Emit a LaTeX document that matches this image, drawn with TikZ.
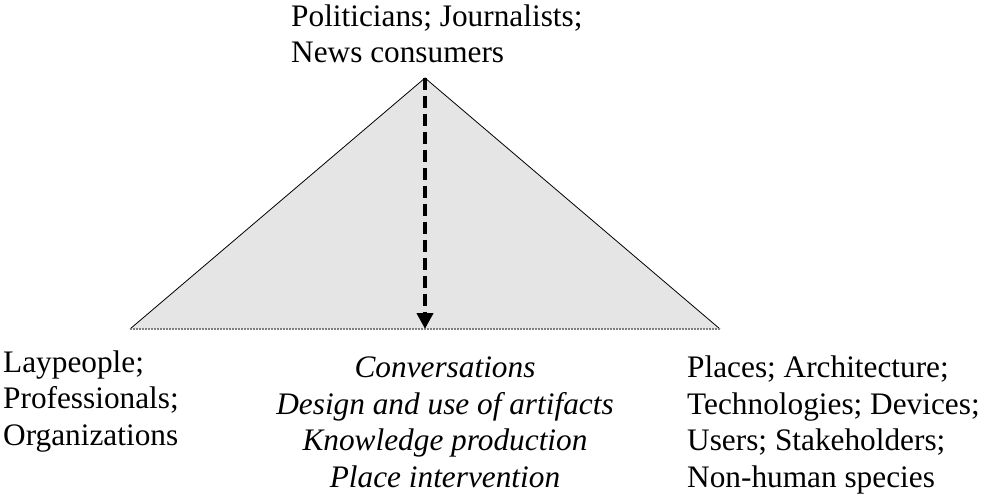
\documentclass[tikz,border=0pt]{standalone}
\usepackage{fontspec}
\setmainfont{Liberation Serif}
\usetikzlibrary{arrows.meta}
\begin{document}
\begin{tikzpicture}[x=1pt,y=-1pt,
  label text/.style={inner sep=0pt, font=\fontsize{31.3}{36.4}\selectfont},
  side/.style={draw=black, line width=0.8pt},
  baseline rule/.style={draw=gray, line width=1.3pt, dash pattern=on 2pt off 1pt},
  flow arrow/.style={draw=black, line width=4pt, dash pattern=on 12pt off 6pt,
    -{Triangle[width=16pt,length=16pt]}}]
  \useasboundingbox (0,0) rectangle (983,495);
  % corners of the triangle and the foot of the arrow
  \coordinate (apex) at (425,78);
  \coordinate (lft) at (130,329);
  \coordinate (rgt) at (720,329);
  \coordinate (foot) at (425,329);
  % shaded triangle
  \fill[black!10] (apex) -- (lft) -- (rgt) -- cycle;
  \draw[side] (lft) -- (apex) -- (rgt);
  \draw[baseline rule] (lft) -- (rgt);
  % downward flow from the apex to the base
  \draw[flow arrow] (apex) -- (foot);
  % labels (base anchor sits on the last line)
  \node[label text, anchor=base west, align=left] (top) at (291,63)
    {Politicians; Journalists;\\News consumers};
  \node[label text, anchor=base west, align=left] (left) at (3,445)
    {Laypeople;\\Professionals;\\Organizations};
  \node[label text, anchor=base, align=center, font=\fontsize{31.3}{36.4}\selectfont\itshape] (middle) at (445,487)
    {Conversations\\Design and use of artifacts\\Knowledge production\\Place intervention};
  \node[label text, anchor=base west, align=left] (right) at (687,487)
    {Places; Architecture;\\Technologies; Devices;\\Users; Stakeholders;\\Non-human species};
\end{tikzpicture}
\end{document}
